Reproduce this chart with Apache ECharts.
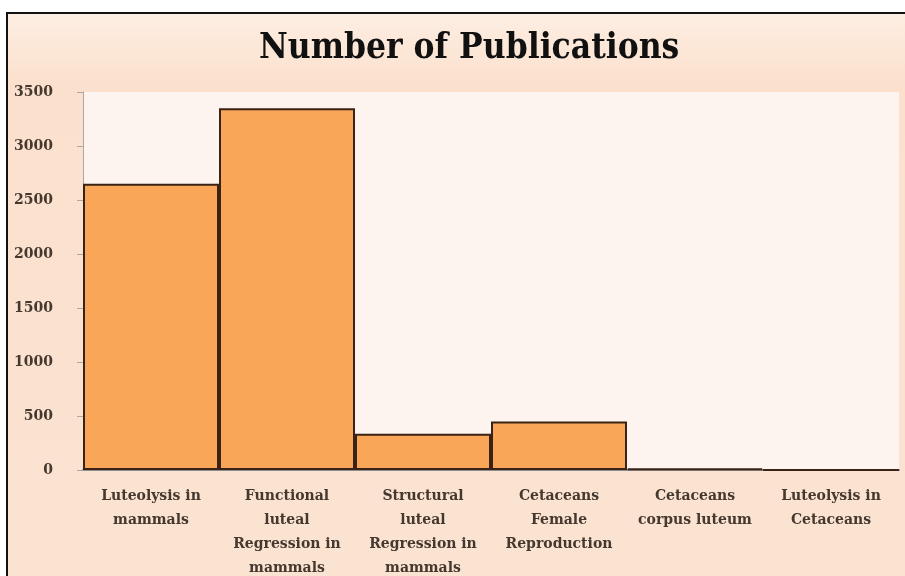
<!DOCTYPE html>
<html>
<head>
<meta charset="utf-8">
<script src="https://cdn.jsdelivr.net/npm/echarts@6/dist/echarts.min.js"></script>
<style>
  html, body { margin: 0; padding: 0; background: #ffffff; }
  #chart { width: 905px; height: 576px; }
</style>
</head>
<body>
<div id="chart"></div>
<script>
// Publication counts per search topic
const categories = [
  'Luteolysis in\nmammals',
  'Functional\nluteal\nRegression in\nmammals',
  'Structural\nluteal\nRegression in\nmammals',
  'Cetaceans\nFemale\nReproduction',
  'Cetaceans\ncorpus luteum',
  'Luteolysis in\nCetaceans'
];
const publications = [2650, 3350, 335, 450, 14, 2];
const yTicks = { min: 0, max: 3500, step: 500 };

const chart = echarts.init(document.getElementById('chart'), null, { renderer: 'canvas' });

const serif = '"DejaVu Serif", "Liberation Serif", serif';

chart.setOption({
  backgroundColor: '#ffffff',
  graphic: [
    {
      type: 'rect',
      z: -10,
      shape: { x: 7, y: 13, width: 910, height: 580 },
      style: {
        fill: new echarts.graphic.LinearGradient(0, 0, 0, 1, [
          { offset: 0, color: '#fdeee3' },
          { offset: 0.12, color: '#fbe1cd' },
          { offset: 1, color: '#fbe3d2' }
        ]),
        stroke: '#111111',
        lineWidth: 2
      }
    }
  ],
  title: {
    text: 'Number of Publications',
    left: 254,
    top: 26,
    textStyle: {
      fontFamily: '"DejaVu Serif Condensed", "DejaVu Serif", serif',
      fontWeight: 'bold',
      fontSize: 35,
      color: '#111111'
    }
  },
  grid: {
    left: 83,
    right: 6,
    top: 92,
    bottom: 106,
    show: true,
    backgroundColor: '#fef4ef',
    borderWidth: 0,
    containLabel: false,
    outerBoundsMode: 'none'
  },
  xAxis: {
    type: 'category',
    data: categories,
    axisLine: { show: true, lineStyle: { color: '#8c8c8c', width: 2 } },
    axisTick: { show: false },
    axisLabel: {
      interval: 0,
      margin: 14,
      fontFamily: serif,
      fontWeight: 'bold',
      fontSize: 14,
      lineHeight: 24,
      color: '#45382f'
    }
  },
  yAxis: {
    type: 'value',
    min: yTicks.min,
    max: yTicks.max,
    interval: yTicks.step,
    axisLine: { show: true, lineStyle: { color: '#a8a8a8', width: 1 } },
    axisTick: { show: true, length: 6, lineStyle: { color: '#a8a8a8' } },
    splitLine: { show: false },
    axisLabel: {
      margin: 30,
      formatter: (v) => String(v),
      fontFamily: serif,
      fontWeight: 'bold',
      fontSize: 14,
      color: '#45382f'
    }
  },
  series: [
    {
      type: 'bar',
      data: publications,
      barCategoryGap: '0%',
      itemStyle: {
        color: '#f9a658',
        borderColor: '#3a2214',
        borderWidth: 2
      }
    }
  ]
});
</script>
</body>
</html>
